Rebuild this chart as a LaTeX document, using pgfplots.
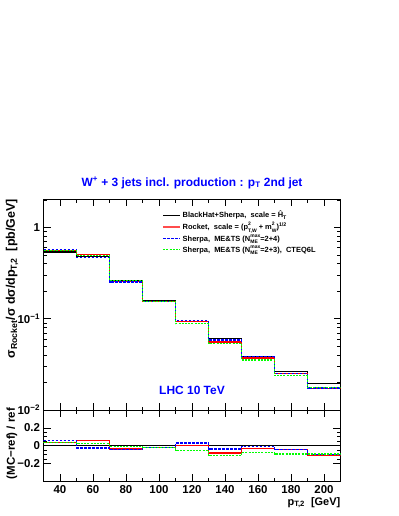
\documentclass[border=0pt]{standalone}
\usepackage{pgfplots}
\pgfplotsset{compat=1.18}
\usepackage{fontspec}
\setmainfont{Liberation Sans}
\newcommand{\supsub}[2]{{\fontsize{5}{5}\selectfont\raisebox{-2.4bp}{\shortstack[l]{#1\\#2}}}}
\newcommand{\lstrut}{\rule[-3.5bp]{0pt}{8.5bp}}
\definecolor{rblue}{RGB}{0,0,255}
\definecolor{rgreen}{RGB}{0,255,0}
\definecolor{rred}{RGB}{255,0,0}
\begin{document}
\begin{tikzpicture}
\path[use as bounding box] (0,0) rectangle (399bp,-516bp);
\pgfplotsset{
  rootstyle/.style={
    scale only axis, width=297bp, xmin=30, xmax=210,
    tick align=inside, tick style={black, line width=0.5bp},
    major tick length=7bp, minor tick length=3.5bp,
    axis line style={line width=0.8bp},
    /pgf/number format/assume math mode=true,
    every tick label/.append style={font=\fontsize{11.5}{12}\selectfont\bfseries},
    xtick={40,60,...,200}, minor x tick num=1,
  },
  grdot/.style={rgreen, line width=1.3bp, dash pattern=on 2bp off 1.2bp},
  bldash/.style={rblue, line width=1.3bp, dash pattern=on 2.5bp off 1.5bp},
}
\begin{axis}[rootstyle, at={(43.5bp,-199bp)}, anchor=north west, height=211bp,
  ymode=log, ymin=0.01, ymax=2.04, xticklabels={},
  ytick={0.01,0.1,1}, yticklabels={10\textsuperscript{−2},10\textsuperscript{−1},1},
  minor ytick={0.02,0.03,0.04,0.05,0.06,0.07,0.08,0.09,0.2,0.3,0.4,0.5,0.6,0.7,0.8,0.9,2},
  title={W\textsuperscript{+} + 3 jets incl. production : p\textsubscript{T} 2nd jet},
  title style={font=\fontsize{12}{14}\selectfont\bfseries, text=rblue, at={(axis description cs:0.5,1)}, anchor=base, yshift=7bp, inner sep=0pt},
  ylabel={σ\textsubscript{Rocket}/σ dσ/dp\textsubscript{T,2}\ \ [pb/GeV]},
  ylabel style={font=\fontsize{12.5}{14}\selectfont\bfseries, at={(axis description cs:-0.106,1)}, anchor=east, inner sep=0pt},
  legend style={at={(axis description cs:0.399,0.95)}, anchor=north west, draw=none, fill=none,
    font=\fontsize{7.5}{9}\selectfont\bfseries, row sep=0pt, inner sep=0pt,
    nodes={inner sep=1.5bp}},
  legend cell align=left,
]
\addlegendimage{black, line width=1.2bp}
\addlegendentry{\lstrut BlackHat+Sherpa,\ \ scale = Ĥ\textsubscript{T}}
\addlegendimage{rred, line width=2bp, opacity=0.7}
\addlegendentry{\lstrut Rocket,\ \ scale = (p\supsub{2}{T,W} + m\supsub{2}{W})\textsuperscript{1/2}}
\addlegendimage{bldash}
\addlegendentry{\lstrut Sherpa,\ \ ME\&TS (N\supsub{max}{ME}=2+4)}
\addlegendimage{grdot}
\addlegendentry{\lstrut Sherpa,\ \ ME\&TS (N\supsub{max}{ME}=2+3),\ \ CTEQ6L}
\addplot[const plot, black, line width=1.2bp, forget plot] coordinates {(30,0.537) (50,0.478) (70,0.264) (90,0.157) (110,0.093) (130,0.0605) (150,0.0385) (170,0.0262) (190,0.0194) (210,0.0194)};
\addplot[const plot, rred, line width=1.3bp, forget plot] coordinates {(30,0.556) (50,0.505) (70,0.253) (90,0.153) (110,0.093) (130,0.0555) (150,0.0372) (170,0.0250) (190,0.01727) (210,0.01727)};
\addplot[const plot, bldash, forget plot] coordinates {(30,0.5676) (50,0.4651) (70,0.2521) (90,0.1534) (110,0.0955) (130,0.0582) (150,0.0382) (170,0.0250) (190,0.01746) (210,0.01746)};
\addplot[const plot, grdot, forget plot] coordinates {(30,0.553) (50,0.4876) (70,0.2614) (90,0.1531) (110,0.0881) (130,0.0536) (150,0.0354) (170,0.0237) (190,0.01756) (210,0.01756)};
\node[font=\fontsize{12}{14}\selectfont\bfseries, text=rblue] at (axis description cs:0.5,0.095) {LHC 10 TeV};
\end{axis}
\begin{axis}[rootstyle, at={(43.5bp,-410bp)}, anchor=north west, height=71bp,
  ymin=-0.4, ymax=0.4, ytick={-0.2,0,0.2}, yticklabels={−0.2,0,0.2}, minor y tick num=3,
  xticklabel style={inner sep=1bp, yshift=-3bp},
  xlabel={p\textsubscript{T,2}\ \ [GeV]},
  xlabel style={font=\fontsize{11}{12}\selectfont\bfseries, at={(axis description cs:1,-0.225)}, anchor=north east, inner sep=0pt},
  ylabel={(MC−ref) / ref},
  ylabel style={font=\fontsize{11.5}{12}\selectfont\bfseries, at={(axis description cs:-0.106,1.03)}, anchor=east, inner sep=0pt},
]
\addplot[black, line width=1.2bp] coordinates {(30,0) (210,0)};
\addplot[const plot, rred, line width=1.3bp] coordinates {(30,0.035) (50,0.057) (70,-0.04) (90,-0.023) (110,0.0) (130,-0.083) (150,-0.034) (170,-0.045) (190,-0.11) (210,-0.11)};
\addplot[const plot, bldash] coordinates {(30,0.057) (50,-0.027) (70,-0.045) (90,-0.023) (110,0.027) (130,-0.038) (150,-0.008) (170,-0.045) (190,-0.10) (210,-0.10)};
\addplot[const plot, grdot] coordinates {(30,0.03) (50,0.02) (70,-0.01) (90,-0.025) (110,-0.053) (130,-0.114) (150,-0.08) (170,-0.095) (190,-0.095) (210,-0.095)};
\end{axis}
\end{tikzpicture}
\end{document}
